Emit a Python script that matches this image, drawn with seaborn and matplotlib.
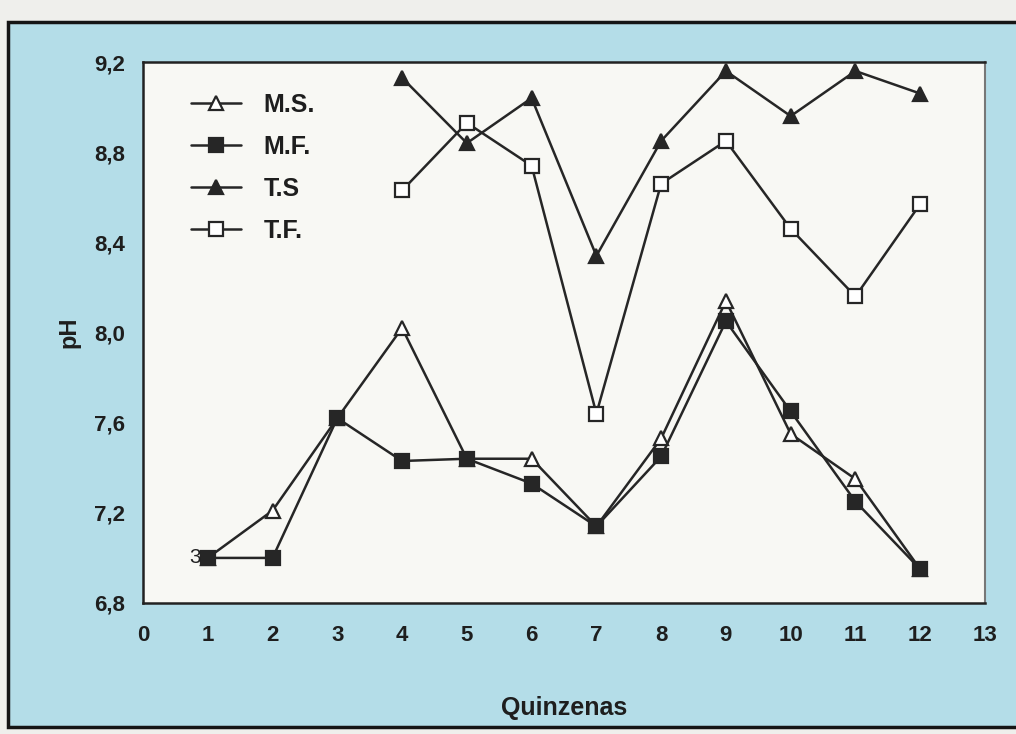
"""
pH por quinzena - M.S., M.F., T.S, T.F.
"""
import pandas as pd
import matplotlib.pyplot as plt
import seaborn as sns
from matplotlib.patches import Rectangle

quinzenas = [1, 2, 3, 4, 5, 6, 7, 8, 9, 10, 11, 12]
ms = [7.00, 7.21, 7.62, 8.02, 7.44, 7.44, 7.14, 7.53, 8.14, 7.55, 7.35, 6.95]
mf = [7.00, 7.00, 7.62, 7.43, 7.44, 7.33, 7.14, 7.45, 8.05, 7.65, 7.25, 6.95]
quinzenas_t = [4, 5, 6, 7, 8, 9, 10, 11, 12]
ts = [9.13, 8.84, 9.04, 8.34, 8.85, 9.16, 8.96, 9.16, 9.06]
tf = [8.63, 8.93, 8.74, 7.64, 8.66, 8.85, 8.46, 8.16, 8.57]

y_ticks = [6.8, 7.2, 7.6, 8.0, 8.4, 8.8, 9.2]
y_labels = ["6,8", "7,2", "7,6", "8,0", "8,4", "8,8", "9,2"]
x_ticks = list(range(0, 14))

sns.set_style("white")
plt.rcParams['font.family'] = ['Liberation Sans', 'DejaVu Sans']

W, H = 1016, 734
fig = plt.figure(figsize=(W / 100, H / 100), dpi=100, facecolor='#efefec')

# moldura azul (fundo digitalizado)
fundo = Rectangle((8 / W, 7 / H), 1.2, 1 - 7 / H - 22 / H, transform=fig.transFigure,
                  facecolor='#b4dde8', edgecolor='#151515', linewidth=2.5, zorder=-10)
fig.add_artist(fundo)

ax = fig.add_axes([143 / W, 1 - 603 / H, (985 - 143) / W, (603 - 62) / H])
ax.set_zorder(5)
ax.set_facecolor('#f8f8f4')

cor = '#262626'
series = [
    ('M.S.', quinzenas, ms, '^', 'white'),
    ('M.F.', quinzenas, mf, 's', cor),
    ('T.S', quinzenas_t, ts, '^', cor),
    ('T.F.', quinzenas_t, tf, 's', 'white'),
]
for nome, x, y, mk, fc in series:
    df = pd.DataFrame({'Quinzenas': x, 'pH': y})
    sns.lineplot(data=df, x='Quinzenas', y='pH', ax=ax, color=cor, linewidth=1.8,
                 marker=mk, markersize=9.5, markerfacecolor=fc, markeredgecolor=cor,
                 markeredgewidth=1.6, label=nome)

ax.text(1, 7.0, '3 ', ha='right', va='center', fontsize=15, color='#222')

ax.set_xlim(0, 13)
ax.set_ylim(6.8, 9.2)
ax.set_xticks(x_ticks)
ax.set_xticklabels([str(t) for t in x_ticks], fontsize=16, fontweight='bold', color='#1e1e1e')
ax.set_yticks(y_ticks)
ax.set_yticklabels(y_labels, fontsize=16, fontweight='bold', color='#1e1e1e')
ax.tick_params(axis='both', direction='out', length=5, width=1.2, color='#222', pad=8)
ax.tick_params(axis='x', pad=11)

ax.set_xlabel('Quinzenas', fontsize=18, fontweight='bold', color='#1e1e1e', labelpad=36)
ax.set_ylabel('pH', fontsize=17, fontweight='bold', color='#1e1e1e', labelpad=10)

for lado in ['left', 'bottom', 'top']:
    ax.spines[lado].set_color('#222')
    ax.spines[lado].set_linewidth(1.8)
ax.spines['right'].set_color('#777')
ax.spines['right'].set_linewidth(1.5)

leg = ax.legend(loc='upper left', bbox_to_anchor=(0.03, 0.985), frameon=False, handlelength=2.0,
                labelspacing=0.72, handletextpad=0.9, prop={'weight': 'bold', 'size': 18})
for t in leg.get_texts():
    t.set_color('#1e1e1e')

plt.savefig('out.png', dpi=100, facecolor=fig.get_facecolor())
